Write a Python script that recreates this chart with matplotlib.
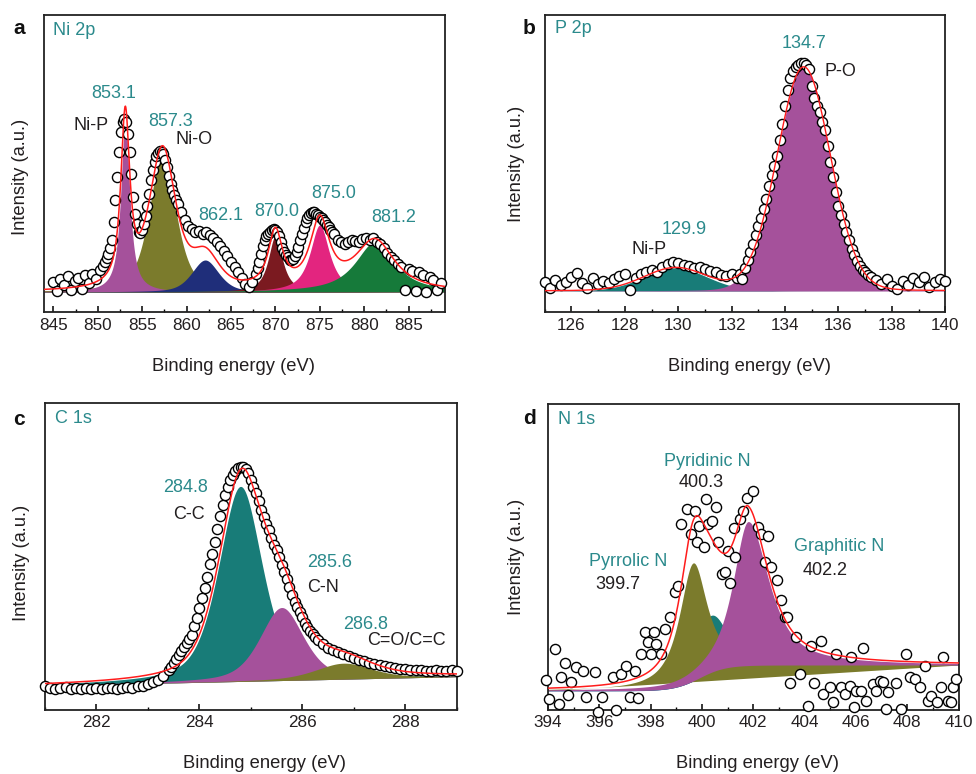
import numpy as np
import matplotlib
matplotlib.use("Agg")
import matplotlib.pyplot as plt
from matplotlib.ticker import MultipleLocator

plt.rcParams['font.family'] = ['Liberation Sans', 'DejaVu Sans']

# ---------------- data (intensity in arbitrary units) ----------------
# Panel a: Ni 2p measured points (binding energy, intensity)
ni_points = [
    (845.0, 30), (845.4, 21), (845.8, 33), (846.2, 27), (846.6, 36), (847.0, 22), (847.4, 31), (847.8, 34), (848.2, 23), (848.6, 37),
    (849.0, 29), (849.4, 38), (849.8, 33), (850.2, 42), (850.6, 46),
    (850.8, 50), (851.0, 54), (851.2, 58), (851.4, 64), (851.6, 72), (851.8, 90), (852.0, 112), (852.2, 135), (852.4, 160), (852.6, 180),
    (852.8, 190), (853.0, 193), (853.2, 190), (853.4, 178), (853.6, 160), (853.8, 138), (854.0, 115), (854.2, 98), (854.4, 88), (854.6, 80),
    (854.8, 79), (855.0, 82), (855.2, 88), (855.4, 96), (855.6, 106), (855.8, 118), (856.0, 132), (856.2, 142), (856.4, 150), (856.6, 156),
    (856.8, 159), (857.0, 161), (857.2, 160), (857.4, 158), (857.6, 152), (857.8, 145), (858.0, 136), (858.2, 128), (858.4, 122), (858.6, 117),
    (858.8, 112), (859.0, 108),
    (859.4, 100), (859.8, 92), (860.2, 86), (860.6, 83), (861.0, 80), (861.4, 81), (861.8, 78), (862.2, 80), (862.6, 77), (863.0, 74),
    (863.4, 70), (863.8, 66), (864.2, 61), (864.6, 56), (865.0, 50), (865.4, 45), (865.8, 40), (866.2, 34), (866.6, 28), (867.0, 25),
    (867.4, 30), (867.8, 38),
    (868.0, 44), (868.2, 50), (868.4, 58), (868.6, 66), (868.8, 72), (869.0, 76), (869.2, 78), (869.4, 80), (869.6, 82), (869.8, 83),
    (870.0, 82), (870.2, 80), (870.4, 76), (870.6, 70), (870.8, 64), (871.0, 60), (871.2, 57), (871.4, 55), (871.6, 52), (871.8, 52),
    (872.0, 53), (872.2, 56), (872.4, 60), (872.6, 65), (872.8, 72), (873.0, 78), (873.2, 84), (873.4, 90), (873.6, 94), (873.8, 97),
    (874.0, 99), (874.2, 100), (874.4, 100), (874.6, 98), (874.8, 97), (875.0, 95), (875.2, 94), (875.4, 92), (875.6, 90), (875.8, 87),
    (876.0, 85), (876.2, 82), (876.4, 80), (876.6, 78),
    (877.0, 72), (877.4, 70), (877.8, 68), (878.2, 70), (878.6, 72), (879.0, 71), (879.4, 70), (879.8, 73), (880.2, 74), (880.6, 72),
    (881.0, 74), (881.4, 70), (881.8, 68), (882.2, 64), (882.6, 59), (883.0, 55), (883.4, 52), (883.8, 48), (884.2, 45), (884.6, 22),
    (885.0, 43), (885.4, 41), (885.8, 21), (886.2, 40), (886.6, 37), (887.0, 20), (887.4, 35), (887.8, 32), (888.2, 22), (888.6, 29),
]
# fitted components: centre, height, fwhm(left), fwhm(right), lorentzian fraction
ni_baseline = 20
ni_centers = [857.3, 853.1, 862.1, 870.0, 875.0, 881.2]
ni_heights = [140, 171, 32, 56, 67, 50]
ni_fwhm_l = [3.5, 1.2, 3.6, 1.9, 2.6, 5.3]
ni_fwhm_r = [3.5, 1.2, 3.6, 1.9, 2.6, 5.3]
ni_eta = [0.6, 0.9, 0.5, 0.9, 0.9, 0.9]
ni_colors = ['#7b7b2c', '#a5519b', '#1f2e7a', '#7b1a20', '#e3257f', '#167a3a']
ni_labels = [('853.1', 851.84, 219, 'teal'), ('Ni-P', 849.2, 187, 'k'), ('857.3', 858.2, 191, 'teal'),
             ('Ni-O', 860.8, 172, 'k'), ('862.1', 863.9, 97, 'teal'), ('870.0', 870.2, 101, 'teal'),
             ('875.0', 876.6, 119, 'teal'), ('881.2', 883.3, 94, 'teal')]

# Panel b: P 2p
p_points = [
    (125.0, 30), (125.2, 24), (125.4, 32), (125.6, 27), (125.8, 30), (126.0, 35), (126.2, 39), (126.4, 29), (126.6, 24), (126.8, 34),
    (127.0, 28), (127.2, 31), (127.4, 29), (127.6, 33), (127.8, 36), (128.0, 38), (128.2, 22), (128.4, 34), (128.6, 38), (128.8, 40),
    (129.0, 42), (129.2, 40), (129.4, 45), (129.6, 48), (129.8, 50), (130.0, 49), (130.2, 47), (130.4, 46), (130.6, 44), (130.8, 45),
    (131.0, 43), (131.2, 41), (131.4, 40), (131.6, 37), (131.8, 36), (132.0, 38), (132.2, 34),
    (132.3, 38), (132.4, 33), (132.5, 44), (132.6, 52), (132.7, 60), (132.8, 68), (132.9, 77), (133.0, 86), (133.1, 94), (133.2, 103),
    (133.3, 113), (133.4, 126), (133.5, 137), (133.6, 146), (133.7, 156), (133.8, 172), (133.9, 188), (134.0, 206), (134.1, 222), (134.2, 234),
    (134.3, 241), (134.4, 245), (134.5, 247), (134.6, 249), (134.7, 249), (134.8, 247), (134.9, 243), (135.0, 226), (135.1, 214), (135.2, 206),
    (135.3, 200), (135.4, 190), (135.5, 182), (135.6, 166), (135.7, 150), (135.8, 135), (135.9, 120), (136.0, 106), (136.1, 97), (136.2, 88),
    (136.3, 80), (136.4, 72), (136.5, 63), (136.6, 57), (136.7, 51), (136.8, 46), (136.9, 42), (137.0, 40), (137.1, 37), (137.2, 35),
    (137.4, 32), (137.6, 28), (137.8, 33), (138.0, 26), (138.2, 23), (138.4, 31), (138.6, 27), (138.8, 34), (139.0, 30), (139.2, 35),
    (139.4, 25), (139.6, 30), (139.8, 33), (140.0, 31),
]
p_baseline = 21
p_centers = [129.9, 134.7]
p_heights = [23, 224]
p_fwhm_l = [2.8, 2.35]
p_fwhm_r = [2.8, 2.35]
p_eta = [0.1, 0.05]
p_colors = ['#187c78', '#a5519b']
p_labels = [('134.7', 134.71, 268, 'teal'), ('P-O', 136.08, 241, 'k'),
            ('129.9', 130.24, 83, 'teal'), ('Ni-P', 128.9, 63, 'k')]

# Panel c: C 1s
c_points = [
    (281.0, 24), (281.1, 22), (281.2, 21), (281.3, 22), (281.4, 23), (281.5, 21), (281.6, 22), (281.7, 21), (281.8, 22), (281.9, 21),
    (282.0, 22), (282.1, 21), (282.2, 22), (282.3, 22), (282.4, 21), (282.5, 22), (282.6, 23), (282.7, 22), (282.8, 24), (282.9, 24),
    (283.0, 26), (283.1, 28), (283.2, 30), (283.3, 34), (283.4, 40),
    (283.45, 43), (283.5, 47), (283.55, 51), (283.6, 55), (283.65, 59), (283.7, 63), (283.75, 67), (283.8, 71), (283.85, 75), (283.9, 84),
    (283.95, 92), (284.0, 102), (284.05, 112), (284.1, 122), (284.15, 133), (284.2, 146), (284.25, 156), (284.3, 168), (284.35, 181), (284.4, 194),
    (284.45, 205), (284.5, 215), (284.55, 223), (284.6, 230), (284.65, 235), (284.7, 239), (284.75, 242), (284.8, 243), (284.85, 243), (284.9, 241),
    (284.95, 237), (285.0, 230), (285.05, 223), (285.1, 217), (285.15, 209), (285.2, 200), (285.25, 193), (285.3, 186), (285.35, 180), (285.4, 172),
    (285.45, 165), (285.5, 160), (285.55, 153), (285.6, 145), (285.65, 138), (285.7, 131), (285.75, 123), (285.8, 115), (285.85, 108), (285.9, 103),
    (285.95, 98), (286.0, 93), (286.05, 87), (286.1, 83), (286.15, 79), (286.2, 76), (286.25, 73), (286.3, 70),
    (286.4, 66), (286.5, 62), (286.6, 60), (286.7, 58), (286.8, 56), (286.9, 54), (287.0, 52), (287.1, 50), (287.2, 49), (287.3, 47),
    (287.4, 46), (287.5, 45), (287.6, 44), (287.7, 43), (287.8, 42), (287.9, 41), (288.0, 41), (288.1, 40), (288.2, 40), (288.3, 40),
    (288.4, 39), (288.5, 39), (288.6, 40), (288.7, 39), (288.8, 39), (288.9, 40), (289.0, 39),
]
c_baseline_ends = [24, 33]
c_centers = [284.8, 285.6, 286.8]
c_heights = [195, 73, 16]
c_fwhm_l = [1.0, 1.0, 1.3]
c_fwhm_r = [1.0, 1.0, 1.3]
c_eta = [0.5, 0.5, 0.5]
c_colors = ['#187c78', '#a5519b', '#7b7b2c']
c_labels = [('284.8', 283.74, 222, 'teal', 'center'), ('C-C', 283.8, 195, 'k', 'center'),
            ('285.6', 286.09, 147, 'teal', 'left'), ('C-N', 286.09, 122, 'k', 'left'),
            ('286.8', 286.79, 85, 'teal', 'left'), ('C=O/C=C', 287.26, 69, 'k', 'left')]

# Panel d: N 1s
n_points = [
    (393.94, 30), (394.04, 11), (394.26, 61), (394.42, 6), (394.52, 33), (394.65, 47), (394.78, 15), (394.88, 28), (395.10, 43), (395.36, 39),
    (395.47, 13), (395.82, 38), (395.95, -2), (396.10, 13), (396.53, 33), (396.66, 0), (396.86, 36), (397.05, 44), (397.18, 13), (397.38, 39),
    (397.51, 12), (397.64, 56), (397.77, 78), (397.90, 68), (398.03, 56), (398.13, 78), (398.22, 66), (398.42, 56), (398.55, 81), (398.74, 93),
    (398.94, 118), (399.06, 124), (399.19, 186), (399.43, 201), (399.58, 176), (399.71, 199), (399.80, 168), (399.87, 184), (400.08, 163), (400.17, 211),
    (400.23, 186), (400.39, 189), (400.53, 203), (400.62, 168), (400.78, 136), (400.88, 138), (401.01, 159), (401.08, 127), (401.25, 182), (401.30, 153),
    (401.47, 191), (401.60, 199), (401.77, 212), (401.99, 219), (402.18, 183), (402.31, 176), (402.57, 174), (402.44, 148), (402.70, 143), (402.94, 130),
    (403.06, 110), (403.22, 93), (403.32, 93), (403.42, 27), (403.68, 73), (403.81, 36), (404.13, 4), (404.26, 64), (404.36, 27), (404.62, 69),
    (404.71, 16), (404.97, 23), (405.10, 8), (405.23, 56), (405.43, 23), (405.58, 16), (405.75, 24), (405.82, 53), (405.92, 3), (406.01, 19),
    (406.21, 19), (406.27, 62), (406.40, 9), (406.66, 26), (406.79, 19), (406.92, 29), (407.05, 28), (407.18, 1), (407.25, 18), (407.57, 27),
    (407.74, 1), (407.96, 56), (408.09, 33), (408.29, 31), (408.48, 23), (408.68, 44), (408.81, 9), (408.94, 14), (409.17, 8), (409.32, 23),
    (409.39, 53), (409.58, 9), (409.71, 8), (409.78, 23), (409.91, 31),
]
n_background_ends = [19, 44.7]
n_step_center = 399.9
n_step_width = 0.5
n_centers = [400.35, 399.65, 401.8]
n_heights = [57, 118, 144]
n_fwhm_l = [1.5, 1.3, 1.4]
n_fwhm_r = [1.5, 1.3, 1.9]
n_eta = [0.3, 0.9, 0.8]
n_colors = ['#187c78', '#7b7b2c', '#a5519b']
n_labels = [('Pyridinic N', 400.19, 248, 'teal'), ('400.3', 399.97, 227, 'k'),
            ('Pyrrolic N', 397.12, 148, 'teal'), ('399.7', 396.73, 125, 'k'),
            ('Graphitic N', 405.33, 163, 'teal'), ('402.2', 404.81, 139, 'k')]

# ---------------- styling ----------------
TEAL = '#2b8a8c'
TXT = '#231f20'
RED = '#ff1c1c'
FS_TICK = 12.3
FS_LAB = 13.2
FS_ANN = 13


def pv(x, c, h, wl, wr, eta):
    w = np.where(x < c, wl, wr)
    d = (x - c) / w
    g = np.exp(-4 * np.log(2) * d ** 2)
    lor = 1.0 / (1.0 + 4 * d ** 2)
    return h * (eta * lor + (1 - eta) * g)


fig = plt.figure(figsize=(9.76, 7.74), dpi=100)
W, H = 976, 774


def make_ax(l, t, r, b):
    return fig.add_axes([l / W, 1 - b / H, (r - l) / W, (b - t) / H])


def style(ax, xlim, ymax, major, minor, xl, yl):
    ax.set_xlim(*xlim)
    ax.set_ylim(0, ymax)
    ax.xaxis.set_major_locator(MultipleLocator(major))
    ax.xaxis.set_minor_locator(MultipleLocator(minor))
    ax.tick_params(axis='x', which='both', direction='in', top=False, labelsize=FS_TICK,
                   labelcolor=TXT, pad=4)
    ax.tick_params(axis='x', which='major', length=4.5, width=1.1)
    ax.tick_params(axis='x', which='minor', length=2.5, width=1.0)
    ax.set_yticks([])
    for s in ax.spines.values():
        s.set_linewidth(1.3)
        s.set_color('#222222')
    ax.set_xlabel('Binding energy (eV)', fontsize=FS_LAB, color=TXT)
    ax.xaxis.label.set_va('center')
    ax.xaxis.set_label_coords(*xl)
    ax.set_ylabel('Intensity (a.u.)', fontsize=FS_LAB, color=TXT)
    ax.yaxis.label.set_va('center')
    ax.yaxis.set_label_coords(*yl)


def scatter(ax, pts):
    xs = [p[0] for p in pts]
    ys = [p[1] for p in pts]
    ax.plot(xs, ys, 'o', mfc='white', mec='black', ms=7.3, mew=1.0, ls='none',
            clip_on=False, zorder=3)


def labels(ax, items):
    for it in items:
        txt, x, y, col = it[:4]
        ha = it[4] if len(it) > 4 else 'center'
        ax.text(x, y, txt, color=TEAL if col == 'teal' else TXT, fontsize=FS_ANN,
                ha=ha, va='center', zorder=5)


# ---- panel a ----
axa = make_ax(44, 15, 445, 312)
xa = np.linspace(843.95, 889.1, 2500)
comps = [pv(xa, c, h, wl, wr, e) for c, h, wl, wr, e in
         zip(ni_centers, ni_heights, ni_fwhm_l, ni_fwhm_r, ni_eta)]
for comp, col in zip(comps, ni_colors):
    axa.fill_between(xa, ni_baseline, ni_baseline + comp, color=col, lw=0, zorder=1)
scatter(axa, ni_points)
axa.plot(xa, ni_baseline + np.sum(comps, axis=0), color=RED, lw=1.1, zorder=4)
labels(axa, ni_labels)
style(axa, (843.95, 889.1), 297, 5, 2.5, (0.472, -0.184), (-0.058, 0.456))
axa.text(0.022, 0.947, 'Ni 2p', transform=axa.transAxes, color=TEAL, fontsize=FS_ANN,
         ha='left', va='center')

# ---- panel b ----
axb = make_ax(544.7, 15, 945.3, 312)
xb = np.linspace(125, 140, 2000)
comps = [pv(xb, c, h, wl, wr, e) for c, h, wl, wr, e in
         zip(p_centers, p_heights, p_fwhm_l, p_fwhm_r, p_eta)]
for comp, col in zip(comps, p_colors):
    axb.fill_between(xb, p_baseline, p_baseline + comp, color=col, lw=0, zorder=1)
scatter(axb, p_points)
axb.plot(xb, p_baseline + np.sum(comps, axis=0), color=RED, lw=1.0, zorder=4)
labels(axb, p_labels)
style(axb, (125, 140), 297, 2, 1, (0.512, -0.184), (-0.071, 0.498))
axb.text(0.025, 0.953, 'P 2p', transform=axb.transAxes, color=TEAL, fontsize=FS_ANN,
         ha='left', va='center')

# ---- panel c ----
axc = make_ax(45, 403, 456.7, 709.7)
xc = np.linspace(281, 289, 2000)
base_c = c_baseline_ends[0] + (c_baseline_ends[1] - c_baseline_ends[0]) * (xc - 281) / 8
comps = [pv(xc, c, h, wl, wr, e) for c, h, wl, wr, e in
         zip(c_centers, c_heights, c_fwhm_l, c_fwhm_r, c_eta)]
for comp, col in zip(comps, c_colors):
    axc.fill_between(xc, base_c, base_c + comp, color=col, lw=0, zorder=1)
scatter(axc, c_points)
axc.plot(xc, base_c + np.sum(comps, axis=0), color=RED, lw=1.1, zorder=4)
labels(axc, c_labels)
style(axc, (281, 289), 306.7, 2, 1, (0.532, -0.176), (-0.057, 0.478))
axc.text(0.024, 0.948, 'C 1s', transform=axc.transAxes, color=TEAL, fontsize=FS_ANN,
         ha='left', va='center')

# ---- panel d ----
axd = make_ax(548, 403.7, 958.7, 709.7)
xd = np.linspace(394, 410, 2500)
comps = [pv(xd, c, h, wl, wr, e) for c, h, wl, wr, e in
         zip(n_centers, n_heights, n_fwhm_l, n_fwhm_r, n_eta)]
total = np.sum(comps, axis=0)
step = 1.0 / (1.0 + np.exp(-(xd - n_step_center) / n_step_width))
bg = n_background_ends[0] + (n_background_ends[1] - n_background_ends[0]) * step
lin_d = n_background_ends[0] + (n_background_ends[1] - n_background_ends[0]) * (xd - 394) / 16
axd.plot(xd, bg, color='#2e62b5', lw=1.0, zorder=0.5)
axd.fill_between(xd, bg, bg + comps[0], color=n_colors[0], lw=0, zorder=1)
axd.fill_between(xd, lin_d, bg + comps[1], color=n_colors[1], lw=0, zorder=1)
axd.fill_between(xd, bg, bg + comps[2], color=n_colors[2], lw=0, zorder=1)
scatter(axd, n_points)
axd.plot(xd, bg + total, color=RED, lw=1.1, zorder=4)
labels(axd, n_labels)
style(axd, (394, 410), 306, 2, 1, (0.511, -0.176), (-0.077, 0.499))
axd.text(0.024, 0.95, 'N 1s', transform=axd.transAxes, color=TEAL, fontsize=FS_ANN,
         ha='left', va='center')

# panel letters
for letter, px, py in [('a', 19, 29), ('b', 529, 28), ('c', 19, 419.5), ('d', 529, 419)]:
    fig.text(px / W, 1 - py / H, letter, fontsize=15, fontweight='bold', color='#111111',
             ha='center', va='center')

fig.savefig('out.png', dpi=100)
